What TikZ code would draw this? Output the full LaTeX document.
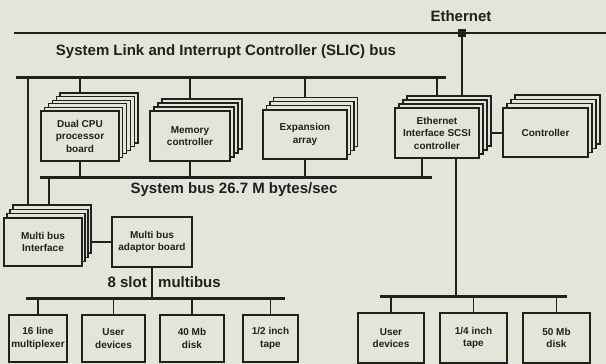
\documentclass[tikz,border=0pt]{standalone}
\usepackage{fontspec}
\setmainfont{Liberation Sans}
\usetikzlibrary{shadows}
\pgfdeclarelayer{paper}
\pgfdeclarelayer{wires}
\pgfsetlayers{paper,wires,main}
\definecolor{paper}{RGB}{226,229,216}
\definecolor{ink}{RGB}{32,32,30}
\tikzset{
  box/.style={draw=ink, fill=paper, line width=1.3pt, inner sep=0pt, align=center,
    font=\fontsize{10}{12.5}\selectfont\bfseries, text=ink},
  sz/.style 2 args={minimum width=#1pt, minimum height=#2pt},
  layer/.style 2 args={general shadow={shadow xshift=#1pt, shadow yshift=#2pt,
    fill=paper, draw=ink, line width=1.2pt}},
  busline/.style={draw=ink, line width=3pt},
  wire/.style={draw=ink, line width=1.3pt},
  lbl/.style={text=ink, inner sep=0pt, font=\fontsize{15}{17}\selectfont\bfseries},
}
\begin{document}
\begin{tikzpicture}[x=1pt, y=-1pt]
\useasboundingbox (0,0) rectangle (606,364);
\begin{pgfonlayer}{paper}
\fill[paper] (0,0) rectangle (606,364);
\end{pgfonlayer}

% labels
\node[lbl] (lEth) at (461,16) {Ethernet};
\node[lbl] (lSlic) at (226,52) {System Link and Interrupt Controller (SLIC) bus};
\node[lbl] (lSys) at (234,190) {System bus 26.7 M bytes/sec};
\node[lbl, anchor=east] (l8) at (147,282) {8 slot};
\node[lbl, anchor=west] (lMb) at (158,282) {multibus};

% bus end points
\coordinate (eL) at (14,33);  \coordinate (eR) at (606,33);
\coordinate (sL) at (16,77);  \coordinate (sR) at (446,77);
\coordinate (yL) at (40,177); \coordinate (yR) at (432,177);
\coordinate (mL) at (26,298); \coordinate (mR) at (285,298);
\coordinate (rL) at (380,296); \coordinate (rR) at (567,296);
\coordinate (lx1) at (28,77);  \coordinate (lx2) at (49,177);
\coordinate (ed1) at (422,177); \coordinate (ed2) at (456,296);

% stacked boards
\node[box, sz={78}{50}, layer={19}{18}, layer={15.2}{14.4}, layer={11.4}{10.8}, layer={7.6}{7.2}, layer={3.8}{3.6}]
  (cpu) at (80,136) {Dual CPU\\processor\\board};
\node[box, sz={80}{50}, layer={12}{12}, layer={8}{8}, layer={4}{4}]
  (mem) at (190,136) {Memory\\controller};
\node[box, sz={84}{49}, layer={10.5}{12.5}, layer={7}{8.3}, layer={3.5}{4.2}]
  (exp) at (305,134.5) {Expansion\\array};
\node[box, sz={84}{50}, layer={12}{12}, layer={8}{8}, layer={4}{4}]
  (eth) at (437,133) {Ethernet\\Interface SCSI\\controller};
\node[box, sz={85}{49}, layer={12}{13}, layer={8}{8.7}, layer={4}{4.3}]
  (ctrl) at (545.5,132.5) {Controller};
\node[box, sz={78}{48}, layer={9}{13}, layer={6}{8.7}, layer={3}{4.3}]
  (mbi) at (43,242) {Multi bus\\Interface};
\node[box, sz={80}{50}] (mba) at (152,242) {Multi bus\\adaptor board};

% bottom devices
\node[box, sz={58}{47}] (d1) at (38,338.5) {16 line\\multiplexer};
\node[box, sz={63}{47}] (d2) at (113.5,338.5) {User\\devices};
\node[box, sz={64}{47}] (d3) at (192,338.5) {40 Mb\\disk};
\node[box, sz={55}{47}] (d4) at (270.5,338.5) {1/2 inch\\tape};
\node[box, sz={66}{50}] (d5) at (391,338) {User\\devices};
\node[box, sz={67}{50}] (d6) at (473.5,338) {1/4 inch\\tape};
\node[box, sz={67}{50}] (d7) at (556.5,338) {50 Mb\\disk};

% buses
\draw[draw=ink, line width=2pt] (eL) -- (eR);
\draw[busline] (sL) -- (sR);
\draw[busline] (yL) -- (yR);
\draw[busline] (mL) -- (mR);
\draw[busline] (rL) -- (rR);
\node[fill=ink, minimum size=8pt, inner sep=0pt] (tap) at (462,33) {};

% connectors
\begin{pgfonlayer}{wires}
\draw[wire] (tap) -- (tap |- eth.north);
\draw[wire] (cpu.north |- sL) -- (cpu.north);
\draw[wire] (mem.north |- sL) -- (mem.north);
\draw[wire] (exp.north |- sL) -- (exp.north);
\draw[wire] (eth.north |- sL) -- (eth.north);
\draw[wire] (cpu.south) -- (cpu.south |- yL);
\draw[wire] (mem.south) -- (mem.south |- yL);
\draw[wire] (exp.south) -- (exp.south |- yL);
\draw[wire] (ed1 |- eth.south) -- (ed1);
\draw[wire] (ed2 |- eth.south) -- (ed2);
\draw[wire] (eth.east) -- (ctrl.west |- eth.east);
\draw[wire] (lx1) -- (lx1 |- mbi.north);
\draw[wire] (lx2) -- (lx2 |- mbi.north);
\draw[wire] (mbi.east) -- (mba.west);
\draw[wire] (mba.south) -- (mba.south |- mL);
\foreach \d in {d1,d2,d3,d4} \draw[wire] (\d.north) -- (\d.north |- mL);
\foreach \d in {d5,d6,d7} \draw[wire] (\d.north) -- (\d.north |- rL);
\end{pgfonlayer}
\end{tikzpicture}
\end{document}
